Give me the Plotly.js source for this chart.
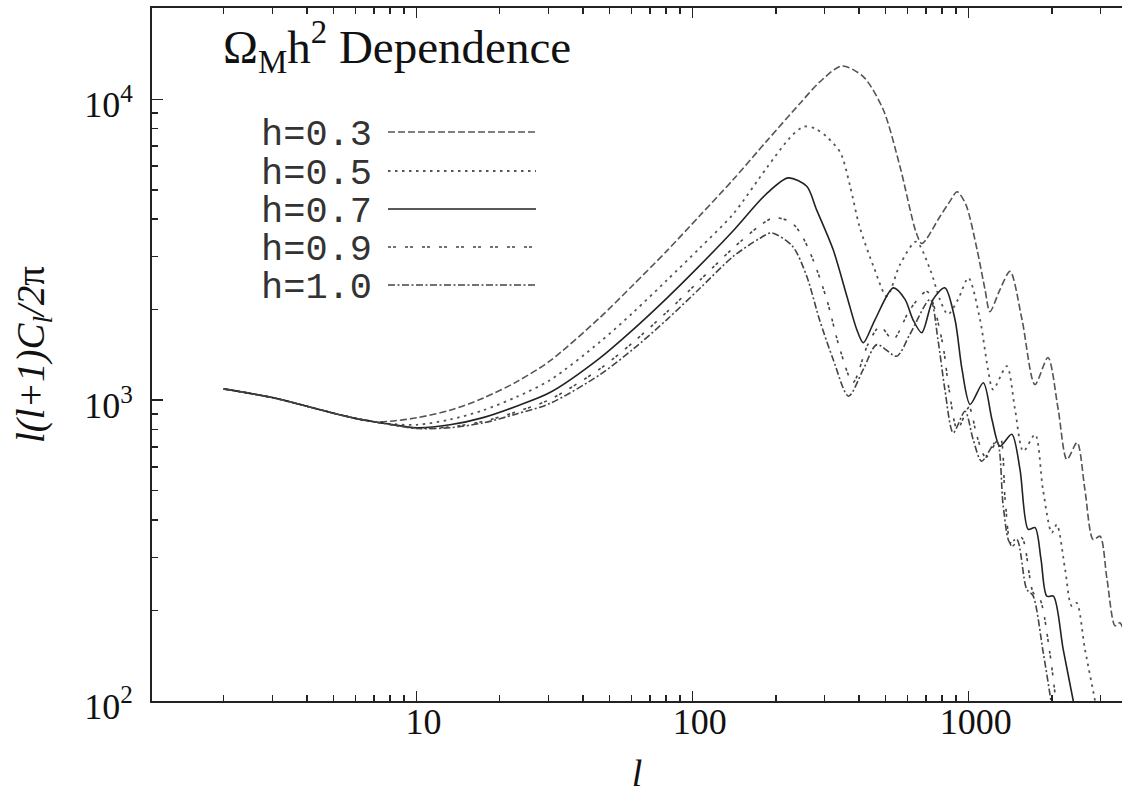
<!DOCTYPE html>
<html>
<head>
<meta charset="utf-8">
<script src="https://cdn.plot.ly/plotly-3.0.1.min.js"></script>
<style>html,body{margin:0;padding:0;background:#fff;}#chart{width:1122px;height:794px;}</style>
</head>
<body>
<div id="chart"></div>
<script>
// multipole l and l(l+1)C_l/2pi values for each h
const seriesNames = ["h=0.3", "h=0.5", "h=0.7", "h=0.9", "h=1.0"];

const l03 = [2,3,4,5,6,7,8,10,13.2,17.4,23,30.4,46.1,61,80.5,106,140,185,245,288,347,415,490,564,645,677,787,855,908,977,1072,1146,1194,1298,1412,1560,1738,1937,2110,2269,2470,2636,2825,2991,3170,3390,3530,4000];
const v03 = [1090,1020,955,905,870,848,851,874,925,1015,1150,1350,1880,2420,3130,4100,5400,7250,9700,11400,12900,11900,9250,5970,3610,3316,4080,4580,4930,4467,3170,2330,1970,2330,2680,1854,1127,1386,931,635,723,505,344,353,254,178,182,118];

const l05 = [2,3,4,5,6,7,8,10,13.2,17.4,23,30.4,46.1,61,80.5,106,140,185,225,252,277.5,305,343,372,402,452,505,564,645,725,787,841,915,998,1099,1175,1225,1374,1472,1577,1740,1858,2000,2085,2235,2360,2460,2636,2870,3040];
const v05 = [1090,1020,955,905,870,848,834,828,862,925,1025,1165,1560,1960,2500,3200,4150,5900,7450,8110,8000,7530,6650,5140,3785,2785,2215,2824,3365,2718,2160,1928,2160,2550,1854,1265,1085,1297,931,676,769,505,362,386,274,207,212,149,100,75];

const l07 = [2,3,4,5,6,7,8,10,13.2,17.4,23,30.4,46.1,61,80.5,106,140,185,222,259,281,323,362,393,415,458,533,588,628,676,743,820,892,946,1012,1130,1214,1298,1432,1534,1643,1740,1828,1919,2028,2198,2393,2530];
const v07 = [1090,1020,955,905,870,848,832,810,828,875,955,1060,1380,1720,2180,2800,3650,4850,5480,5140,4300,3160,2216,1718,1552,1854,2362,2163,1854,1675,2163,2362,1854,1265,968,1142,863,703,770,589,372,377,296,223,223,149,100,75];

const l09 = [2,3,4,5,6,7,8,10,13.2,17.4,23,30.4,46.1,61,80.5,106,140,175,196,225,245,273,306,342,381,431,477,532,612,706,800,849,910,1003,1072,1153,1298,1355,1432,1556,1713,1812,1971,2072,2178];
const v09 = [1090,1020,955,905,870,848,830,808,815,850,915,1005,1270,1560,1960,2500,3200,3800,4036,3926,3610,2930,2163,1473,1145,1530,1757,1591,1998,2296,1585,1085,800,946,757,646,752,468,327,349,229,218,143,100,75];

const l10 = [2,3,4,5,6,7,8,10,13.2,17.4,23,30.4,46.1,61,80.5,106,140,175,193,230,259,288,323,367,415,465,548,612,725,774,820,879,970,1038,1114,1263,1334,1411,1493,1623,1710,1862,1986,2070];
const v10 = [1090,1020,955,905,870,848,830,805,810,840,900,975,1215,1480,1850,2350,3000,3450,3596,3250,2580,1854,1365,1031,1265,1530,1400,1653,2163,1586,1085,779,919,740,627,731,444,336,345,235,224,145,100,75];

const xTickVals = [10, 100, 1000];
const xTickText = ["10", "100", "1000"];
const yTickVals = [100, 1000, 10000];
const yTickText = ["10<sup>2</sup>", "10<sup>3</sup>", "10<sup>4</sup>"];

const styles = [
  {dash: "7px,3px", color: "#555", width: 1.6},
  {dash: "2.5px,4.5px", color: "#555", width: 1.8},
  {dash: "solid", color: "#222", width: 1.6},
  {dash: "3px,2px,3px,9px", color: "#444", width: 1.6},
  {dash: "7px,2.5px,2px,2.5px", color: "#444", width: 1.6}
];
const xs = [l03, l05, l07, l09, l10];
const ys = [v03, v05, v07, v09, v10];

const traces = xs.map((x, i) => ({
  x: x, y: ys[i], type: "scatter", mode: "lines", name: seriesNames[i],
  line: {shape: "spline", smoothing: 0.8, dash: styles[i].dash, color: styles[i].color, width: styles[i].width},
  showlegend: false, hoverinfo: "skip"
}));

function minorVals(decades) {
  const out = [];
  decades.forEach(d => { for (let k = 2; k <= 9; k++) out.push(k * d); });
  return out;
}

// plot-area geometry helpers (paper units)
const L = 152, T = 8, W = 970, H = 693;
const px = v => (v - L) / W;
const py = v => (T + H - v) / H;

const legendY = [132, 171, 209, 247, 285];
const shapes = [];
const annotations = [];
seriesNames.forEach((name, i) => {
  shapes.push({type: "line", xref: "paper", yref: "paper", x0: px(388), x1: px(536), y0: py(legendY[i]), y1: py(legendY[i]),
    line: {color: styles[i].color, width: styles[i].width, dash: styles[i].dash}});
  annotations.push({xref: "paper", yref: "paper", x: px(374), y: py(legendY[i] + 3), xanchor: "right", yanchor: "middle",
    text: name, showarrow: false, font: {family: "Liberation Mono, Courier New, monospace", size: 37, color: "#333"}});
});
annotations.push({xref: "paper", yref: "paper", x: px(221), y: py(47), xanchor: "left", yanchor: "middle",
  text: "Ω<sub>M</sub>h<sup>2</sup> Dependence", showarrow: false,
  font: {family: "Liberation Serif, Times New Roman, serif", size: 47, color: "#111"}});

const layout = {
  width: 1122, height: 794,
  margin: {l: L, r: 0, t: T, b: 794 - T - H},
  paper_bgcolor: "#fff", plot_bgcolor: "#fff",
  showlegend: false,
  xaxis: {
    type: "log", range: [Math.log10(1.1), 3.5554],
    tickvals: xTickVals, ticktext: xTickText,
    ticks: "inside", ticklen: 10, tickwidth: 1.5, tickcolor: "#222",
    minor: {tickvals: minorVals([1, 10, 100, 1000]), ticks: "inside", ticklen: 6, tickwidth: 1.5, tickcolor: "#222"},
    showline: true, linecolor: "#222", linewidth: 2, mirror: "allticks",
    showgrid: false, zeroline: false, ticklabelstandoff: -12, ticklabelshift: 7,
    tickfont: {family: "Liberation Serif, Times New Roman, serif", size: 36, color: "#111"},
    title: {text: "<i>l</i>", font: {family: "Liberation Serif, Times New Roman, serif", size: 38, color: "#111"}, standoff: 42}
  },
  yaxis: {
    type: "log", range: [2, 4.3036],
    tickvals: yTickVals, ticktext: yTickText,
    ticks: "inside", ticklen: 11, tickwidth: 1.5, tickcolor: "#222",
    minor: {tickvals: minorVals([100, 1000]).concat([20000]), ticks: "inside", ticklen: 6, tickwidth: 1.5, tickcolor: "#222"},
    showline: true, linecolor: "#222", linewidth: 2, mirror: false,
    showgrid: false, zeroline: false, ticklabelstandoff: 10, ticklabelshift: 5,
    tickfont: {family: "Liberation Serif, Times New Roman, serif", size: 36, color: "#111"},
    title: {text: "<i>l(l+1)C<sub>l</sub>/2</i>π", font: {family: "Liberation Serif, Times New Roman, serif", size: 39, color: "#111"}, standoff: 28}
  },
  shapes: shapes,
  annotations: annotations
};

Plotly.newPlot("chart", traces, layout, {staticPlot: true, displayModeBar: false});
</script>
</body>
</html>
